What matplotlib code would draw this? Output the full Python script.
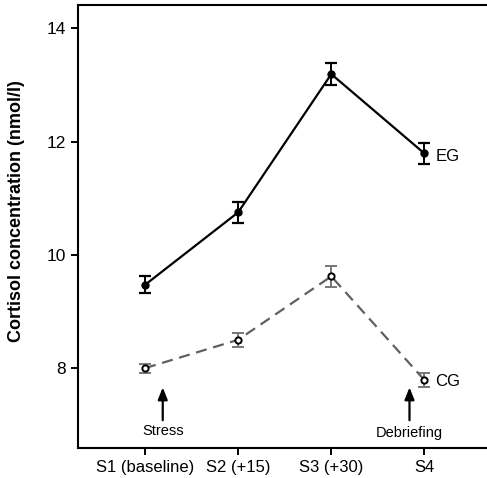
import numpy as np
import matplotlib.pyplot as plt

plt.rcParams['font.family'] = ['Liberation Sans', 'DejaVu Sans']

sessions = ['S1 (baseline)', 'S2 (+15)', 'S3 (+30)', 'S4']
eg_mean = [9.47, 10.75, 13.19, 11.79]
eg_err = [0.15, 0.18, 0.19, 0.18]
cg_mean = [8.00, 8.50, 9.62, 7.79]
cg_err = [0.08, 0.12, 0.18, 0.13]

x = np.arange(1, len(sessions) + 1)

fig = plt.figure(figsize=(4.87, 4.78), dpi=100)
ax = fig.add_axes([78/487, 30/478, 1.0, 443/478])

ax.errorbar(x, eg_mean, yerr=eg_err, color='black', lw=1.6, marker='o',
            ms=5, mfc='black', mec='black', capsize=4, capthick=1.6,
            elinewidth=1.4, zorder=3)
ax.errorbar(x, cg_mean, yerr=cg_err, color='#606060', lw=1.6, ls=(0, (5, 3)),
            marker='o', ms=4.5, mfc='white', mec='black', mew=1.4,
            capsize=4, capthick=1.6, elinewidth=1.4, ecolor='#777777', zorder=3)

ax.text(4.12, eg_mean[-1] - 0.05, 'EG', fontsize=12, va='center', ha='left')
ax.text(4.12, cg_mean[-1] - 0.02, 'CG', fontsize=12, va='center', ha='left')

arrow = dict(arrowstyle='-|>,head_length=0.55,head_width=0.22', color='black',
             lw=1.6, mutation_scale=13, shrinkA=0, shrinkB=0)
ax.annotate('', xy=(1.19, 7.66), xytext=(1.19, 7.08), arrowprops=arrow)
ax.text(1.19, 6.89, 'Stress', fontsize=10.5, ha='center', va='center')
ax.annotate('', xy=(3.84, 7.66), xytext=(3.84, 7.08), arrowprops=arrow)
ax.text(3.84, 6.86, 'Debriefing', fontsize=10.5, ha='center', va='center')

ax.set_xlim(0.28, 5.51)
ax.set_ylim(6.59, 14.41)
ax.set_xticks(x)
ax.set_xticklabels(sessions, fontsize=12)
ax.set_yticks([8, 10, 12, 14])
ax.tick_params(axis='both', labelsize=12.5, direction='out', length=5, width=1.4)
ax.tick_params(axis='x', labelsize=12)
ax.set_ylabel('Cortisol concentration (nmol/l)', fontsize=13, fontweight='bold')
ax.yaxis.set_label_coords(-0.108, 0.535)
ax.spines['right'].set_visible(False)
for s in ax.spines.values():
    s.set_linewidth(1.5)

plt.savefig('out.png', dpi=100)
